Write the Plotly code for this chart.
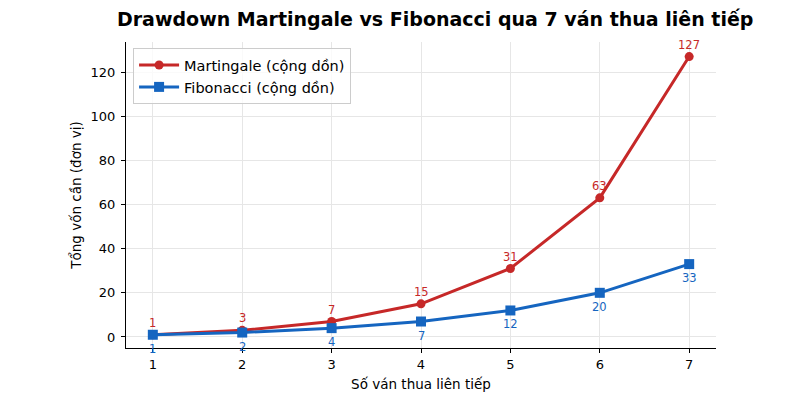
import plotly.graph_objects as go

rounds = [1, 2, 3, 4, 5, 6, 7]
martingale = [1, 3, 7, 15, 31, 63, 127]
fibonacci = [1, 2, 4, 7, 12, 20, 33]

red = "#c62828"
blue = "#1565c0"
font = "DejaVu Sans"

fig = go.Figure()
fig.add_trace(go.Scatter(
    x=rounds, y=martingale, mode="lines+markers", name="Martingale (cộng dồn)",
    line=dict(color=red, width=3), marker=dict(symbol="circle", size=9, color=red),
    cliponaxis=False))
fig.add_trace(go.Scatter(
    x=rounds, y=fibonacci, mode="lines+markers", name="Fibonacci (cộng dồn)",
    line=dict(color=blue, width=3), marker=dict(symbol="square", size=10, color=blue),
    cliponaxis=False))

annotations = []
for xv, yv in zip(rounds, martingale):
    annotations.append(dict(x=xv, y=yv, xref="x", yref="y", text=str(yv), showarrow=False,
                            yanchor="bottom", yshift=3,
                            font=dict(color=red, size=11.5, family=font)))
for xv, yv in zip(rounds, fibonacci):
    annotations.append(dict(x=xv, y=yv, xref="x", yref="y", text=str(yv), showarrow=False,
                            yanchor="top", yshift=-5,
                            font=dict(color=blue, size=11.5, family=font)))

fig.update_layout(
    width=800, height=400,
    margin=dict(l=126, r=84, t=42, b=52),
    paper_bgcolor="white", plot_bgcolor="white",
    font=dict(family=font, size=13, color="black"),
    title=dict(text="<b>Drawdown Martingale vs Fibonacci qua 7 ván thua liên tiếp</b>",
               x=0.544, xanchor="center", y=0.968, yanchor="top",
               font=dict(size=19, family=font)),
    showlegend=True,
    annotations=annotations,
    legend=dict(x=0.012, y=0.98, xanchor="left", yanchor="top",
                bgcolor="rgba(255,255,255,0.8)", bordercolor="#cccccc", borderwidth=1,
                font=dict(size=14.5, family=font), itemwidth=40),
    xaxis=dict(range=[0.7, 7.3], tickmode="array", tickvals=rounds,
               ticktext=[str(r) for r in rounds],
               title=dict(text="Số ván thua liên tiếp", font=dict(size=13.5), standoff=8),
               showline=True, linecolor="black", linewidth=1,
               ticks="outside", ticklen=4, tickcolor="black",
               showgrid=True, gridcolor="#e6e6e6", zeroline=False,
               tickfont=dict(size=13)),
    yaxis=dict(range=[-5.0, 133.6], tickvals=[0, 20, 40, 60, 80, 100, 120],
               title=dict(text="Tổng vốn cần (đơn vị)", font=dict(size=13.5), standoff=5),
               showline=True, linecolor="black", linewidth=1,
               ticks="outside", ticklen=4, tickcolor="black", ticklabelstandoff=3,
               showgrid=True, gridcolor="#e6e6e6", zeroline=False,
               tickfont=dict(size=13)),
)

fig.write_html("out.html")
